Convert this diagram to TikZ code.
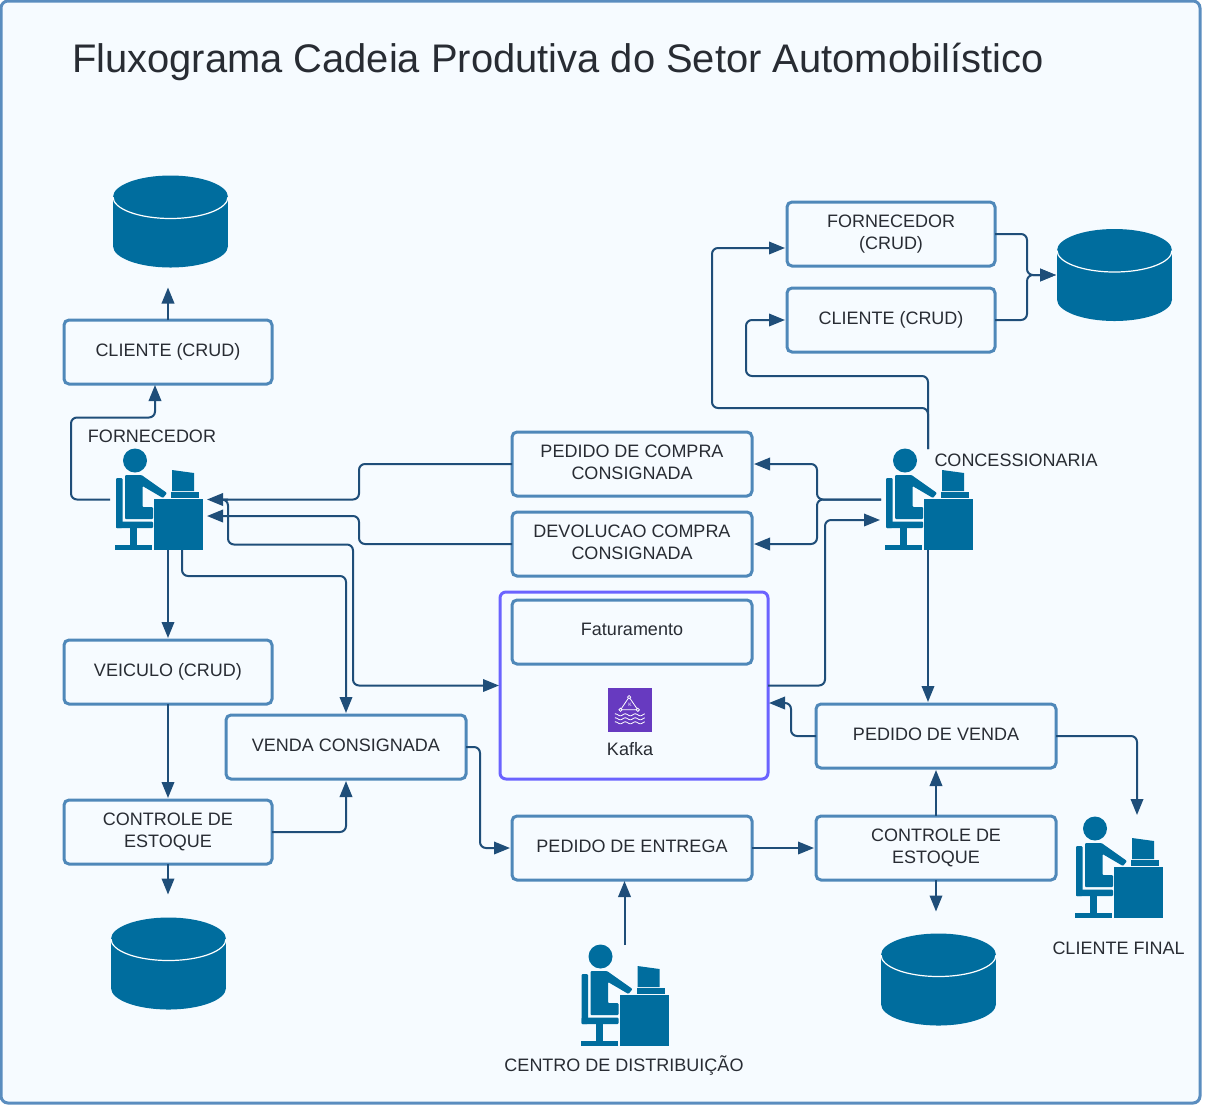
\documentclass[tikz,border=0pt]{standalone}
\usepackage{fontspec}
\setmainfont{Liberation Sans}
\usetikzlibrary{arrows.meta}
\definecolor{fundo}{HTML}{F6FBFF}
\definecolor{moldura}{HTML}{5A8DBF}
\definecolor{caixa}{HTML}{4F88B9}
\definecolor{seta}{HTML}{1F4E79}
\definecolor{icone}{HTML}{006D9E}
\definecolor{roxo}{HTML}{6B63FF}
\definecolor{roxokafka}{HTML}{673AC0}
\definecolor{texto}{HTML}{282C33}
\tikzset{
	pessoa/.pic={
		\fill[icone] (20,11.5) circle (12);
		\fill[icone,rounded corners=1pt] (1,29) rectangle (7.5,79);
		\fill[icone,rounded corners=1pt] (10,26) -- (26.5,26) -- (52,44) -- (48,49) -- (27.5,37) -- (27.5,58) -- (38,58) -- (38,70) -- (10,70) -- cycle;
		\fill[icone,rounded corners=1pt] (1,72.5) rectangle (38,79);
		\fill[icone] (15,79) rectangle (22,96);
		\fill[icone] (0,96) rectangle (37,101);
		\fill[icone] (39,50) rectangle (88,101);
		\fill[icone] (56,43) rectangle (84,49);
		\fill[icone] (57,21) -- (79,24) -- (79,42) -- (57,42) -- cycle;
	},
	banco/.pic={
		\fill[icone] (57.5,21.5) ellipse [x radius=57.5,y radius=21.5];
		\fill[icone] (0,21.5) rectangle (115,70.5);
		\fill[icone] (57.5,70.5) ellipse [x radius=57.5,y radius=21.5];
		\draw[white,line width=1.2pt] (0,21.5) .. controls (0,33.4) and (25.7,43) .. (57.5,43) .. controls (89.3,43) and (115,33.4) .. (115,21.5);
	},
	pic kafka/.pic={
		\fill[roxokafka] (0,0) rectangle (44,44);
		\draw[white,line width=.8pt] (21.3,9.3) -- (12.7,22) -- (30,22) -- cycle;
		\foreach \cx/\cy in {21.3/9.3,12.7/22,30/22}
			\draw[white,fill=roxokafka,line width=.8pt] (\cx,\cy) circle (1.6);
		\foreach \wy in {27,31,35}
			\draw[white,line width=.8pt] plot[domain=7:37,samples=31,smooth] (\x,{\wy+sin(\x*36)});
	},
}
\begin{document}
\begin{tikzpicture}[x=1pt,y=-1pt,
	every node/.style={font=\fontsize{18}{22}\selectfont,text=texto},
	caixinha/.style={draw=caixa,line width=3pt,rounded corners=5pt,fill=fundo,align=center,inner sep=0pt,outer sep=0pt,minimum height=64pt,execute at end node={\rule[-4.5pt]{0pt}{4.5pt}}},
	larga/.style={caixinha,minimum width=240pt},
	estreita/.style={caixinha,minimum width=208pt},
	icobox/.style={inner sep=0pt,outer sep=0pt,minimum width=88pt,minimum height=101pt},
	dbbox/.style={inner sep=0pt,outer sep=0pt,minimum width=115pt,minimum height=92pt},
	conn/.style={draw=seta,line width=2pt,rounded corners=6pt,-{Triangle[length=16pt,width=12.5pt]}},
]
\useasboundingbox (0,0) rectangle (1206,1104);
\fill[white] (0,0) rectangle (1206,1104);
\draw[draw=moldura,fill=fundo,line width=3pt,rounded corners=7pt] (1,1) rectangle (1200,1103);

\node[font=\fontsize{39.9}{48}\selectfont,anchor=west] (titulo) at (68.5,62) {Fluxograma Cadeia Produtiva do Setor Automobilístico};

\node[dbbox] (dbCliente) at (170.5,221.5) {};
\node[dbbox] (dbConc) at (1114.5,275) {};
\node[dbbox] (dbVeiculo) at (168.5,963.5) {};
\node[dbbox] (dbEntrega) at (938.5,979.5) {};
\pic at (dbCliente.north west) {banco};
\pic at (dbConc.north west) {banco};
\pic at (dbVeiculo.north west) {banco};
\pic at (dbEntrega.north west) {banco};

\node[icobox] (fornecedor) at (159,499.5) {};
\node[icobox] (concessionaria) at (929,499.5) {};
\node[icobox] (clienteFinal) at (1119,867.5) {};
\node[icobox] (distribuicao) at (624.5,995.5) {};
\pic at (fornecedor.north west) {pessoa};
\pic at (concessionaria.north west) {pessoa};
\pic at (clienteFinal.north west) {pessoa};
\pic at (distribuicao.north west) {pessoa};

\node (lblFornecedor) at (152,436) {FORNECEDOR};
\node (lblConc) at (1016,460) {CONCESSIONARIA};
\node (lblFinal) at (1118.5,948) {CLIENTE FINAL};
\node (lblDistrib) at (624,1065) {CENTRO DE DISTRIBUIÇÃO};

\node[estreita] (clienteF) at (168,352) {CLIENTE (CRUD)};
\node[estreita] (veiculo) at (168,672) {VEICULO (CRUD)};
\node[estreita] (controleF) at (168,832) {CONTROLE DE\\ESTOQUE};
\node[larga] (venda) at (346,747) {VENDA CONSIGNADA};
\node[larga] (compra) at (632,464) {PEDIDO DE COMPRA\\CONSIGNADA};
\node[larga] (devolucao) at (632,544) {DEVOLUCAO COMPRA\\CONSIGNADA};
\node[draw=roxo,line width=3pt,rounded corners=6pt,inner sep=0pt,outer sep=0pt,minimum width=268pt,minimum height=187pt] (kafka) at (634,685.5) {};
\node[larga] (faturamento) at (632,632) {Faturamento};
\node[inner sep=0pt,minimum size=44pt] (icoKafka) at (630,710) {};
\pic at (icoKafka.north west) {pic kafka};
\node[font=\fontsize{5}{6}\selectfont,text=white,inner sep=0pt] (letraK) at (630,705) {K};
\node (lblKafka) at (630,749) {Kafka};
\node[larga] (pedVenda) at (936,736) {PEDIDO DE VENDA};
\node[larga] (entrega) at (632,848) {PEDIDO DE ENTREGA};
\node[larga] (controleE) at (936,848) {CONTROLE DE\\ESTOQUE};
\node[estreita] (fornCrud) at (891,234) {FORNECEDOR\\(CRUD)};
\node[estreita] (cliCrud) at (891,320) {CLIENTE (CRUD)};

\draw[conn,shorten >=20pt] (clienteF.north) -- (clienteF.north |- dbCliente.south);
\draw[conn,shorten <=5pt,shorten >=1pt] (fornecedor.west) -- ++(-44,0) -- ++(0,-82) -| ([xshift=-13pt]clienteF.south);
\draw[conn,shorten >=4pt] (compra.west) -- ++(-153,0) |- (fornecedor.east);
\draw[conn,shorten >=4pt] (devolucao.west) -- ++(-153,0) |- ([yshift=-16.5pt]fornecedor.east);
\draw[conn,shorten <=25pt,shorten >=1pt] (fornecedor.east) -- ++(25,0) -- ++(0,45) -- ++(125,0) |- (kafka.west);
\draw[conn,shorten >=2pt] (fornecedor.south -| veiculo.north) -- (veiculo.north);
\draw[conn,shorten >=2pt] ([xshift=23pt]fornecedor.south) -- ++(0,26) -| (venda.north);
\draw[conn,shorten >=2pt] (veiculo.south) -- (controleF.north);
\draw[conn,shorten >=2pt] (controleF.east) -| (venda.south);
\draw[conn,shorten >=23pt] (controleF.south) -- (controleF.south |- dbVeiculo.north);
\draw[conn,shorten >=2pt] (venda.east) -- ++(14,0) |- (entrega.west);
\draw[conn,shorten >=2pt] (entrega.east) -- (controleE.west);
\draw[conn,shorten >=1pt] (distribuicao.north) -- (distribuicao.north |- entrega.south);
\draw[conn,shorten >=2pt] (controleE.north) -- (pedVenda.south);
\draw[conn,shorten >=22pt] (controleE.south) -- (controleE.south |- dbEntrega.north);
\draw[conn,shorten >=1pt] (pedVenda.west) -- ++(-25,0) |- ([yshift=-17.5pt]kafka.east);
\draw[conn,shorten >=2pt] (pedVenda.east) -| ([xshift=18pt]clienteFinal.north);
\draw[conn,shorten >=2pt] ([xshift=-1pt]concessionaria.south) -- ([xshift=-1pt]concessionaria.south |- pedVenda.north);
\draw[conn,shorten >=5pt] (kafka.east) -- ++(57,0) |- ([yshift=-20.5pt]concessionaria.west);
\draw[conn,shorten <=4pt,shorten >=2pt] (concessionaria.west) -- ++(-68,0) |- (compra.east);
\draw[conn,shorten <=4pt,shorten >=2pt] (concessionaria.west) -- ++(-68,0) |- (devolucao.east);
\draw[conn,shorten >=2pt] ([xshift=-1pt]concessionaria.north) -- ++(0,-41) -- ++(-216,0) |- ([yshift=-14pt]fornCrud.west);
\draw[conn,shorten >=2pt] ([xshift=-1pt]concessionaria.north) -- ++(0,-73) -- ++(-182,0) |- (cliCrud.west);
\draw[conn,shorten >=1pt] (fornCrud.east) -- ++(32,0) |- (dbConc.west);
\draw[conn,shorten >=1pt] (cliCrud.east) -- ++(32,0) |- (dbConc.west);
\end{tikzpicture}
\end{document}
